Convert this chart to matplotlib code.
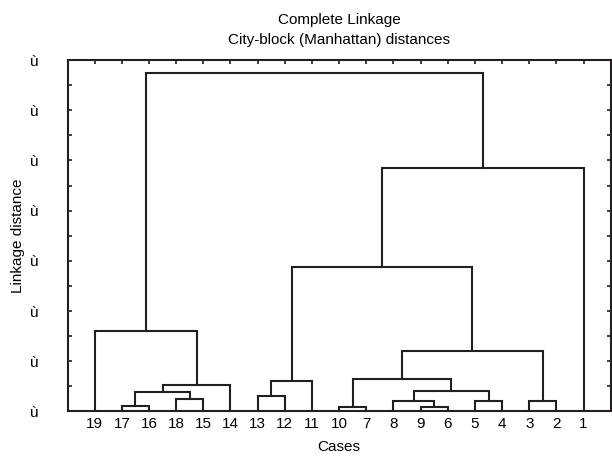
import matplotlib
matplotlib.use("Agg")
import matplotlib.pyplot as plt
from matplotlib.ticker import MultipleLocator

plt.rcParams["font.family"] = ["Liberation Sans", "DejaVu Sans"]

# leaf order along the x axis
cases = ["19", "17", "16", "18", "15", "14", "13", "12", "11", "10",
         "7", "8", "9", "6", "5", "4", "3", "2", "1"]

# merges: left member, right member, linkage distance ("mN" = result of merge N)
merge_left = ["17", "18", "m0", "m2", "19", "13", "m5", "10", "9", "8",
              "5", "m9", "m7", "3", "m12", "m6", "m15", "m4"]
merge_right = ["16", "15", "m1", "14", "m3", "12", "11", "7", "6", "m8",
               "4", "m10", "m11", "2", "m13", "m14", "1", "m16"]
merge_height = [0.10, 0.25, 0.39, 0.53, 1.61, 0.31, 0.61, 0.08, 0.09, 0.20,
                0.21, 0.41, 0.64, 0.21, 1.21, 2.87, 4.85, 6.74]

ytick_labels = ["ù"] * 8

ink = "#231f20"
fs = 11

fig = plt.figure(figsize=(6.12, 4.57), dpi=100)
ax = fig.add_axes([0.1103, 0.0996, 0.8877, 0.7691])

pos = {c: (i + 1, 0.0) for i, c in enumerate(cases)}
for k, (a, b, h) in enumerate(zip(merge_left, merge_right, merge_height)):
    xa, ya = pos[a]
    xb, yb = pos[b]
    ax.plot([xa, xa, xb, xb], [ya, h, h, yb], color=ink, lw=1.5,
            solid_joinstyle="miter", clip_on=False)
    pos["m%d" % k] = ((xa + xb) / 2, h)

ax.set_xlim(0, 20)
ax.set_ylim(0, 7)
ax.set_xticks(range(1, len(cases) + 1))
ax.set_xticklabels(cases, fontsize=fs)
ax.set_yticks(range(8))
ax.set_yticklabels(ytick_labels, fontsize=fs)
ax.yaxis.set_minor_locator(MultipleLocator(0.5))

ax.tick_params(axis="x", which="both", direction="in", top=True, bottom=True,
               length=3, width=1.2, color=ink, pad=4)
ax.tick_params(axis="y", which="both", direction="in", left=True, right=True,
               length=3, width=1.2, color=ink, pad=21)
for s in ax.spines.values():
    s.set_linewidth(1.5)
    s.set_color(ink)

fig.text(0.554, 0.956, "Complete Linkage", ha="center", va="center", fontsize=fs)
fig.text(0.554, 0.912, "City-block (Manhattan) distances", ha="center",
         va="center", fontsize=fs)
fig.text(0.554, 0.022, "Cases", ha="center", va="center", fontsize=fs)
fig.text(0.029, 0.484, "Linkage distance", ha="center", va="center",
         rotation=90, fontsize=fs)

fig.savefig("out.png", dpi=100)
